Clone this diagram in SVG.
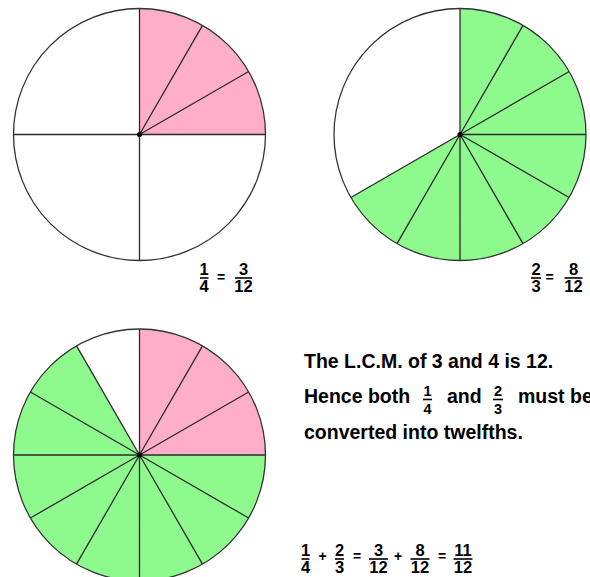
<svg xmlns="http://www.w3.org/2000/svg" width="590" height="577" viewBox="0 0 590 577">
<style>
.pink{fill:#FFAEC9;stroke:none}
.green{fill:#8EFA8E;stroke:none}
.rim{fill:none;stroke:#333;stroke-width:1.3}
.ray{stroke:#2a2a2a;stroke-width:1.3;fill:none}
.dot{fill:#000}
.t{font-family:"Liberation Sans",Arial,sans-serif;font-weight:bold;fill:#000}
.big{font-size:19.5px}
.f{font-size:16.5px;text-anchor:middle}
.fs{font-size:14.5px;text-anchor:middle}
.op{font-size:14px;text-anchor:middle}
.bar{stroke:#000;stroke-width:1.6}
</style>
<rect width="590" height="577" fill="#fff"/>

<g id="circle-quarter">
<path class="pink" d="M139.5,134.5 L139.5,8.5 A126,126 0 0 1 265.5,134.5 Z"/>
<path class="ray" d="M139.5,8.5 L139.5,260.5 M13.5,134.5 L265.5,134.5 M139.5,134.5 L202.5,25.38 M139.5,134.5 L248.62,71.5"/>
<circle class="rim" cx="139.5" cy="134.5" r="126"/>
<circle class="dot" cx="139.5" cy="134.5" r="2.5"/>
</g>

<g id="circle-twothirds">
<path class="green" d="M460,134.5 L460,8.5 A126,126 0 1 1 350.88,197.5 Z"/>
<path class="ray" d="M460,134.5 L460,8.5 M460,134.5 L523,25.38 M460,134.5 L569.12,71.5 M460,134.5 L586,134.5 M460,134.5 L569.12,197.5 M460,134.5 L523,243.62 M460,134.5 L460,260.5 M460,134.5 L397,243.62 M460,134.5 L350.88,197.5"/>
<circle class="rim" cx="460" cy="134.5" r="126"/>
<circle class="dot" cx="460" cy="134.5" r="2.5"/>
</g>

<g id="circle-sum">
<path class="pink" d="M139.5,455 L139.5,329 A126,126 0 0 1 265.5,455 Z"/>
<path class="green" d="M139.5,455 L265.5,455 A126,126 0 1 1 76.5,345.88 Z"/>
<path class="ray" d="M139.5,329 L139.5,581 M13.5,455 L265.5,455 M139.5,455 L202.5,345.88 M139.5,455 L248.62,392 M139.5,455 L248.62,518 M139.5,455 L202.5,564.12 M139.5,455 L76.5,564.12 M139.5,455 L30.38,518 M139.5,455 L30.38,392 M139.5,455 L76.5,345.88"/>
<circle class="rim" cx="139.5" cy="455" r="126"/>
<circle class="dot" cx="139.5" cy="455" r="2.5"/>
</g>

<g id="eq-quarter" class="t">
<text class="f" x="204" y="275">1</text>
<line class="bar" x1="200" y1="278" x2="208.5" y2="278"/>
<text class="f" x="204" y="292">4</text>
<text class="op" x="221" y="282">=</text>
<text class="f" x="243.5" y="275">3</text>
<line class="bar" x1="235" y1="278" x2="252" y2="278"/>
<text class="f" x="243.5" y="292">12</text>
</g>

<g id="eq-twothirds" class="t">
<text class="f" x="536" y="275">2</text>
<line class="bar" x1="531" y1="278" x2="541" y2="278"/>
<text class="f" x="536" y="292">3</text>
<text class="op" x="549.5" y="282">=</text>
<text class="f" x="573.5" y="275">8</text>
<line class="bar" x1="564.5" y1="278" x2="582.5" y2="278"/>
<text class="f" x="573.5" y="292">12</text>
</g>

<g id="explanation" class="t">
<text class="big" x="304" y="368">The L.C.M. of 3 and 4 is 12.</text>
<text class="big" x="304" y="403">Hence both</text>
<text class="fs" x="427.5" y="396">1</text>
<line class="bar" x1="423" y1="399.5" x2="432" y2="399.5"/>
<text class="fs" x="427.5" y="414">4</text>
<text class="big" x="447" y="403">and</text>
<text class="fs" x="498" y="396">2</text>
<line class="bar" x1="493" y1="399.5" x2="503" y2="399.5"/>
<text class="fs" x="498" y="414">3</text>
<text class="big" x="518" y="403">must be</text>
<text class="big" x="304" y="439">converted into twelfths.</text>
</g>

<g id="eq-sum" class="t">
<text class="f" x="305.5" y="556">1</text>
<line class="bar" x1="301.5" y1="559" x2="309.5" y2="559"/>
<text class="f" x="305.5" y="573">4</text>
<text class="op" x="322.5" y="561">+</text>
<text class="f" x="339.5" y="556">2</text>
<line class="bar" x1="335" y1="559" x2="344" y2="559"/>
<text class="f" x="339.5" y="573">3</text>
<text class="op" x="357" y="561">=</text>
<text class="f" x="378.5" y="556">3</text>
<line class="bar" x1="369" y1="559" x2="388" y2="559"/>
<text class="f" x="378.5" y="573">12</text>
<text class="op" x="398" y="561">+</text>
<text class="f" x="420" y="556">8</text>
<line class="bar" x1="410.5" y1="559" x2="429.5" y2="559"/>
<text class="f" x="420" y="573">12</text>
<text class="op" x="442" y="561">=</text>
<text class="f" x="463" y="556">11</text>
<line class="bar" x1="453.5" y1="559" x2="472.5" y2="559"/>
<text class="f" x="463" y="573">12</text>
</g>
</svg>
